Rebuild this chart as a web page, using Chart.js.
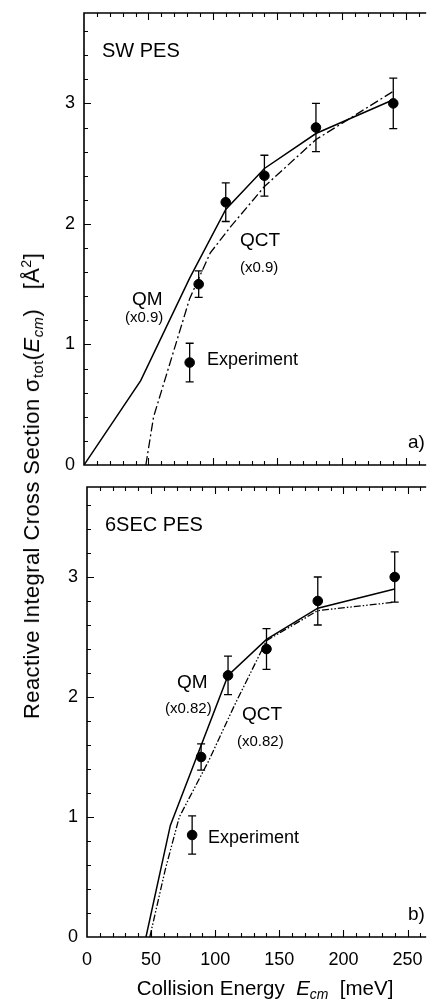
<!DOCTYPE html>
<html>
<head>
<meta charset="utf-8">
<script src="https://cdn.jsdelivr.net/npm/chart.js@4.4.0/dist/chart.umd.min.js"></script>
<style>
    body { margin: 0; background: #fff; }
    #page { position: relative; width: 430px; height: 999px; overflow: hidden; font-family: "Liberation Sans", Arial, sans-serif; color: #000; }
    canvas { position: absolute; left: 0; }
    .lbl { position: absolute; line-height: 1; white-space: nowrap; }
    .lbl sub { font-size: 0.68em; vertical-align: baseline; position: relative; top: 0.3em; }
    .lbl sup { font-size: 0.65em; vertical-align: baseline; position: relative; top: -0.55em; }
    #ytitle { left: 32px; top: 486px; font-size: 22px; letter-spacing: 0.4px; transform: translate(-50%, -50%) rotate(-90deg); }
    #xtitle { left: 265px; top: 978px; font-size: 20.5px; transform: translateX(-50%); }
</style>
</head>
<body>
<div id="page">
    <canvas id="chart-sw" width="430" height="480" style="top:0"></canvas>
    <canvas id="chart-6sec" width="430" height="519" style="top:480px"></canvas>

    <div class="lbl" style="left:102px;top:40px;font-size:20px">SW PES</div>
    <div class="lbl" style="left:240px;top:230px;font-size:19px">QCT</div>
    <div class="lbl" style="left:240px;top:259px;font-size:15px">(x0.9)</div>
    <div class="lbl" style="left:132px;top:289px;font-size:19px">QM</div>
    <div class="lbl" style="left:125px;top:309px;font-size:15px">(x0.9)</div>
    <div class="lbl" style="left:207px;top:350px;font-size:18px">Experiment</div>
    <div class="lbl" style="left:408px;top:432px;font-size:19px">a)</div>

    <div class="lbl" style="left:105px;top:514px;font-size:20px">6SEC PES</div>
    <div class="lbl" style="left:177px;top:672px;font-size:19px">QM</div>
    <div class="lbl" style="left:165px;top:700px;font-size:15px">(x0.82)</div>
    <div class="lbl" style="left:242px;top:704px;font-size:19px">QCT</div>
    <div class="lbl" style="left:237px;top:733px;font-size:15px">(x0.82)</div>
    <div class="lbl" style="left:208px;top:828px;font-size:18px">Experiment</div>
    <div class="lbl" style="left:408px;top:904px;font-size:19px">b)</div>

    <div class="lbl" id="ytitle">Reactive Integral Cross Section &sigma;<sub>tot</sub>(<i>E<sub>cm</sub></i>)&nbsp;&nbsp;&nbsp;[&Aring;<sup>2</sup>]</div>
    <div class="lbl" id="xtitle">Collision Energy&nbsp;&nbsp;<i>E<sub>cm</sub></i>&nbsp;&nbsp;[meV]</div>
</div>

<script>
// tick labels
const xTicks = [0, 50, 100, 150, 200, 250];
const yTicks = [0, 1, 2, 3];

// experiment (same in both panels)
const expEnergy = [82, 89, 110, 140, 180, 240];
const expSigma = [0.85, 1.5, 2.18, 2.4, 2.8, 3.0];
const expError = [0.16, 0.11, 0.16, 0.17, 0.2, 0.21];

// SW PES
const swQmEnergy = [0, 44, 82, 110, 140, 180, 240];
const swQmSigma = [0, 0.7, 1.55, 2.12, 2.46, 2.75, 3.03];
const swQctEnergy = [48, 54, 66, 82, 98, 114, 140, 180, 240];
const swQctSigma = [0, 0.4, 0.82, 1.38, 1.76, 1.98, 2.31, 2.7, 3.1];

// 6SEC PES
const secQmEnergy = [46, 65, 110, 140, 180, 240];
const secQmSigma = [0, 0.93, 2.18, 2.48, 2.74, 2.9];
const secQctEnergy = [49, 61, 72, 95, 115, 140, 180, 240];
const secQctSigma = [0, 0.56, 1.0, 1.47, 1.93, 2.47, 2.72, 2.79];

Chart.defaults.font.family = '"Liberation Sans", Arial, sans-serif';
Chart.defaults.color = '#000';

function toPoints(xs, ys) {
    return xs.map((x, i) => ({ x: x, y: ys[i] }));
}

// box lines and inward ticks
const framePlugin = {
    id: 'frame',
    afterDraw(chart) {
        const { ctx, chartArea: a, scales: { x, y } } = chart;
        ctx.save();
        ctx.strokeStyle = '#000';
        ctx.lineWidth = 1.6;
        ctx.beginPath();
        ctx.moveTo(a.right + 2, a.top);
        ctx.lineTo(a.left, a.top);
        ctx.lineTo(a.left, a.bottom);
        ctx.lineTo(a.right + 2, a.bottom);
        ctx.stroke();

        ctx.lineWidth = 1.1;
        ctx.beginPath();
        for (let i = 1; i * 0.2 < y.max; i++) {
            const py = Math.round(y.getPixelForValue(i * 0.2)) + 0.5;
            const len = i % 5 === 0 ? 7 : 4;
            ctx.moveTo(a.left, py);
            ctx.lineTo(a.left + len, py);
        }
        for (let i = 1; i * 10 < x.max; i++) {
            const px = Math.round(x.getPixelForValue(i * 10)) + 0.5;
            const len = i % 5 === 0 ? 7 : 4;
            ctx.moveTo(px, a.bottom);
            ctx.lineTo(px, a.bottom - len);
            ctx.moveTo(px, a.top);
            ctx.lineTo(px, a.top + len);
        }
        ctx.stroke();
        ctx.restore();
    }
};

const errorBarPlugin = {
    id: 'errorBars',
    afterDatasetsDraw(chart) {
        const { ctx, scales: { x, y } } = chart;
        ctx.save();
        ctx.strokeStyle = '#000';
        ctx.lineWidth = 1.3;
        ctx.beginPath();
        expEnergy.forEach((e, i) => {
            const px = x.getPixelForValue(e);
            const top = y.getPixelForValue(expSigma[i] + expError[i]);
            const bot = y.getPixelForValue(expSigma[i] - expError[i]);
            ctx.moveTo(px, top);
            ctx.lineTo(px, bot);
            ctx.moveTo(px - 4, top);
            ctx.lineTo(px + 4, top);
            ctx.moveTo(px - 4, bot);
            ctx.lineTo(px + 4, bot);
        });
        ctx.stroke();
        ctx.restore();
    }
};

function makePanel(canvasId, qm, qct, qctDash, opts) {
    const ctx = document.getElementById(canvasId).getContext('2d');
    return new Chart(ctx, {
        type: 'scatter',
        data: {
            datasets: [
                {
                    label: 'QM',
                    data: qm,
                    showLine: true,
                    borderColor: '#000',
                    borderWidth: 1.5,
                    pointRadius: 0,
                    tension: 0
                },
                {
                    label: 'QCT',
                    data: qct,
                    showLine: true,
                    borderColor: '#000',
                    borderWidth: 1.3,
                    borderDash: qctDash,
                    pointRadius: 0,
                    tension: 0
                },
                {
                    label: 'Experiment',
                    data: toPoints(expEnergy, expSigma),
                    backgroundColor: '#000',
                    borderColor: '#000',
                    pointRadius: 4.8,
                    pointHoverRadius: 4.8
                }
            ]
        },
        options: {
            responsive: false,
            animation: false,
            devicePixelRatio: 1,
            layout: { padding: { top: opts.top, right: 0, left: 0, bottom: 0 } },
            plugins: {
                legend: { display: false },
                tooltip: { enabled: false }
            },
            scales: {
                x: {
                    type: 'linear',
                    min: 0,
                    max: opts.xMax,
                    grid: { display: false, drawTicks: false },
                    border: { display: false },
                    afterBuildTicks: scale => { scale.ticks = xTicks.map(v => ({ value: v })); },
                    afterFit: scale => {
                        scale.height = opts.xHeight;
                        scale.paddingLeft = 0;
                        scale.paddingRight = 0;
                    },
                    ticks: {
                        display: opts.showX,
                        padding: 12,
                        maxRotation: 0,
                        autoSkip: false,
                        font: { size: 18 }
                    }
                },
                y: {
                    type: 'linear',
                    min: 0,
                    max: 3.75,
                    grid: { display: false, drawTicks: false },
                    border: { display: false },
                    afterBuildTicks: scale => { scale.ticks = yTicks.map(v => ({ value: v })); },
                    afterFit: scale => {
                        scale.width = opts.yWidth;
                        scale.paddingTop = 0;
                        scale.paddingBottom = 0;
                    },
                    ticks: {
                        padding: 9,
                        font: { size: 18 }
                    }
                }
            }
        },
        plugins: [framePlugin, errorBarPlugin]
    });
}

makePanel('chart-sw',
    toPoints(swQmEnergy, swQmSigma),
    toPoints(swQctEnergy, swQctSigma),
    [9, 3, 2, 3],
    { top: 13, xMax: 264, xHeight: 15, yWidth: 84, showX: false });

makePanel('chart-6sec',
    toPoints(secQmEnergy, secQmSigma),
    toPoints(secQctEnergy, secQctSigma),
    [7, 2, 1.5, 2, 1.5, 2],
    { top: 7, xMax: 263, xHeight: 62, yWidth: 87, showX: true });
</script>
</body>
</html>
